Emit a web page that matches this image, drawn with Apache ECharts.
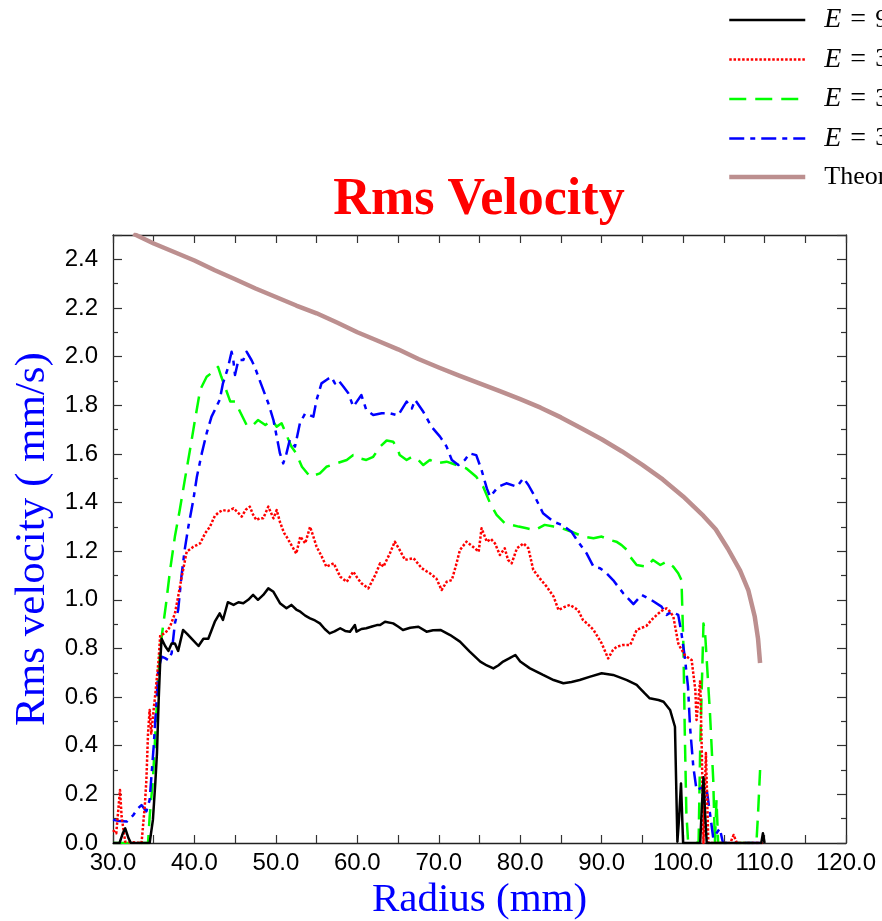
<!DOCTYPE html>
<html>
<head>
<meta charset="utf-8">
<script src="https://cdn.jsdelivr.net/npm/echarts@6/dist/echarts.min.js"></script>
<style>
  html, body { margin: 0; padding: 0; background: #fff; }
  #chart { width: 882px; height: 921px; }
</style>
</head>
<body>
<div id="chart"></div>
<script>
// Axis ranges and ticks
const xTicks = { min: 30, max: 120, step: 5 };
const yTicks = { min: 0, max: 2.5, step: 0.2 };

// Series names (legend)
const seriesNames = ['E = 9.0', 'E = 3.0', 'E = 3.5', 'E = 3.8', 'Theory'];

// Rms velocity (mm/s) against radius (mm), one array per run
const runE1 = [
  [30,0.0],[30.8,0.0],[31.2,0.04],[31.5,0.06],[31.9,0.02],[32.2,0],[34.5,0],[34.9,0.095],[35.2,0.25],
  [35.4,0.37],[35.6,0.58],[35.8,0.75],[35.97,0.84],[36.4,0.81],[36.8,0.79],[37.2,0.82],[37.6,0.82],
  [38.0,0.79],[38.6,0.876],[39.1,0.86],[39.65,0.84],[40.5,0.81],[41.1,0.84],[41.7,0.84],[42.5,0.91],
  [43.1,0.944],[43.5,0.917],[44.1,0.99],[44.8,0.979],[45.4,0.99],[46.0,0.986],[46.6,1.0],[47.2,1.02],
  [47.8,1.0],[48.45,1.02],[49.07,1.047],[49.7,1.033],[50.5,0.986],[51.3,0.965],[51.9,0.979],[52.5,0.96],
  [53.0,0.951],[53.6,0.935],[54.2,0.924],[54.8,0.915],[55.4,0.903],[56.0,0.88],[56.6,0.862],[57.2,0.87],
  [57.9,0.883],[58.5,0.872],[59.1,0.869],[59.7,0.896],[59.9,0.869],[60.5,0.88],[61.1,0.883],[61.8,0.89],
  [62.4,0.896],[62.8,0.896],[63.4,0.91],[64.4,0.903],[65.0,0.89],[65.6,0.876],[66.5,0.885],[67.5,0.889],
  [68.5,0.869],[69.3,0.875],[70.2,0.876],[71.4,0.855],[72.6,0.828],[73.8,0.787],[75.1,0.746],[75.9,0.73],
  [76.7,0.718],[77.3,0.73],[77.9,0.746],[78.7,0.76],[79.4,0.773],[80.0,0.746],[81.2,0.718],[82.0,0.705],
  [82.8,0.691],[84.1,0.67],[85.3,0.657],[86.3,0.662],[87.3,0.67],[88.6,0.684],[90.0,0.698],[91.4,0.691],
  [92.3,0.68],[93.1,0.67],[94.3,0.65],[94.7,0.636],[95.3,0.615],[95.9,0.595],[96.97,0.588],[97.6,0.581],
  [98.4,0.547],[99.0,0.478],[99.3,0.005],[99.5,0.1],[99.74,0.245],[100.0,0.0],[102.1,0.0],[102.3,0.15],
  [102.5,0.27],[102.7,0.12],[102.9,0.0],[109.6,0],[109.8,0.04],[110.0,0]
];

const runE2 = [
  [30,0.053],[30.4,0.04],[30.86,0.218],[31.06,0.108],[31.5,0.005],[33.5,0],[33.9,0.15],[34.1,0.26],
  [34.3,0.45],[34.5,0.547],[34.7,0.45],[35.0,0.55],[35.2,0.615],[35.6,0.752],[35.8,0.855],[36.4,0.862],
  [37.0,0.889],[37.6,0.944],[38.0,1.013],[38.4,1.088],[39.05,1.198],[39.86,1.218],[40.7,1.232],[41.3,1.273],
  [41.9,1.30],[42.5,1.345],[43.0,1.36],[43.5,1.369],[44.1,1.365],[44.8,1.376],[45.3,1.36],[45.8,1.342],
  [46.3,1.37],[46.8,1.383],[47.2,1.35],[47.6,1.328],[48.0,1.335],[48.45,1.335],[49.07,1.383],[49.7,1.335],
  [50.1,1.369],[50.5,1.32],[51.0,1.275],[51.3,1.26],[51.9,1.225],[52.5,1.19],[53.0,1.26],[53.6,1.232],
  [54.2,1.30],[54.6,1.26],[55.0,1.218],[55.6,1.18],[56.2,1.136],[57.1,1.15],[57.9,1.095],[58.7,1.074],
  [59.5,1.116],[60.0,1.09],[60.5,1.068],[61.35,1.047],[62.2,1.102],[62.8,1.15],[63.2,1.136],[64.0,1.191],
  [64.6,1.239],[65.2,1.205],[65.85,1.164],[66.9,1.171],[67.9,1.13],[68.9,1.109],[69.7,1.088],[70.35,1.04],
  [70.96,1.074],[71.6,1.081],[72.1,1.14],[72.6,1.205],[73.4,1.239],[74.2,1.218],[74.9,1.198],[75.25,1.294],
  [75.9,1.239],[76.4,1.25],[76.9,1.232],[77.5,1.184],[78.1,1.212],[78.5,1.164],[78.95,1.15],[79.6,1.212],
  [80.4,1.232],[81.0,1.212],[81.6,1.123],[82.4,1.088],[83.25,1.054],[84.1,1.013],[84.7,0.958],[85.4,0.97],
  [86.1,0.979],[87.1,0.958],[87.7,0.917],[88.3,0.9],[89.0,0.876],[90.0,0.821],[90.8,0.759],[91.4,0.794],
  [91.85,0.807],[92.6,0.814],[93.5,0.814],[94.3,0.876],[94.5,0.883],[95.5,0.893],[96.2,0.92],[96.97,0.944],
  [97.6,0.96],[97.98,0.965],[98.4,0.951],[98.8,0.931],[99.4,0.821],[99.6,0.807],[100.2,0.773],[101.05,0.752],
  [101.5,0.629],[101.65,0.506],[102.1,0.67],[102.3,0.369],[102.5,0],[102.8,0.37],[103.1,0],[105.8,0],
  [106.2,0.033],[106.6,0],[110,0]
];

const runE3 = [
  [30,0],[34.3,0],[34.5,0.108],[34.9,0.26],[35.2,0.45],[35.5,0.65],[35.8,0.8],[36.1,0.88],[36.5,0.98],
  [37.0,1.12],[37.6,1.26],[38.2,1.37],[38.8,1.49],[39.45,1.616],[40.07,1.74],[40.7,1.863],[41.5,1.917],
  [42.3,1.938],[42.9,1.958],[43.3,1.917],[43.75,1.876],[44.4,1.815],[45.0,1.815],[45.6,1.773],[46.4,1.719],
  [47.0,1.712],[47.8,1.739],[48.7,1.719],[49.5,1.739],[50.1,1.712],[50.7,1.726],[51.3,1.678],[51.9,1.63],
  [52.5,1.602],[53.2,1.547],[54.2,1.506],[55.4,1.52],[56.2,1.547],[57.45,1.561],[58.7,1.575],[59.5,1.595],
  [60.3,1.582],[61.1,1.575],[61.95,1.588],[62.8,1.63],[63.6,1.655],[64.4,1.65],[65.0,1.616],[65.2,1.595],
  [66.05,1.575],[66.7,1.588],[67.3,1.582],[68.1,1.554],[68.9,1.575],[69.7,1.561],[70.96,1.568],[72.2,1.554],
  [73.4,1.54],[74.6,1.506],[75.45,1.465],[76.3,1.397],[77.1,1.349],[78.1,1.315],[78.95,1.308],[79.8,1.301],
  [80.8,1.294],[81.8,1.287],[83.0,1.308],[84.1,1.301],[85.1,1.294],[86.3,1.28],[87.7,1.26],[89.0,1.253],
  [90.0,1.26],[91.0,1.246],[91.8,1.239],[92.45,1.225],[93.1,1.205],[93.5,1.177],[94.3,1.143],[95.5,1.136],
  [96.3,1.164],[97.2,1.143],[97.98,1.157],[98.8,1.136],[99.4,1.109],[99.8,1.081],[100.04,0.807],[100.2,0.465],
  [100.4,0.122],[100.6,0.012],[101.9,0],[102.1,0.396],[102.5,0.903],[102.7,0.862],[103.3,0.533],[103.7,0.259],
  [103.9,0],[104.1,0.177],[104.3,0],[109.0,0],[109.2,0.12],[109.45,0.30]
];

const runE4 = [
  [30,0.095],[30.8,0.09],[31.7,0.088],[32.5,0.115],[33.0,0.14],[33.5,0.156],[34.1,0.13],[34.5,0.177],
  [35.0,0.40],[35.35,0.588],[35.55,0.711],[35.97,0.766],[36.4,0.76],[36.8,0.752],[37.2,0.78],[37.6,0.903],
  [38.0,0.958],[38.4,1.095],[38.8,1.205],[39.25,1.30],[39.86,1.41],[40.3,1.506],[40.9,1.602],[41.5,1.685],
  [42.1,1.753],[42.7,1.794],[43.1,1.822],[43.5,1.89],[44.1,1.952],[44.56,2.02],[44.77,1.986],[44.98,1.924],
  [45.4,1.986],[46.0,1.986],[46.4,2.02],[47.0,1.986],[47.4,1.958],[47.85,1.917],[48.45,1.863],[49.07,1.808],
  [49.7,1.739],[50.1,1.671],[50.5,1.602],[50.9,1.561],[51.3,1.602],[51.7,1.657],[52.35,1.63],[52.95,1.726],
  [53.6,1.767],[54.6,1.753],[55.0,1.822],[55.6,1.89],[56.2,1.904],[56.8,1.917],[57.25,1.89],[57.65,1.904],
  [58.3,1.876],[58.9,1.849],[59.5,1.794],[60.5,1.842],[61.1,1.78],[61.95,1.76],[63.0,1.767],[64.0,1.767],
  [65.0,1.758],[66.05,1.815],[66.7,1.787],[67.1,1.822],[68.1,1.773],[69.1,1.712],[70.15,1.671],[70.96,1.63],
  [71.6,1.575],[72.4,1.554],[73.2,1.575],[73.8,1.602],[74.6,1.595],[75.25,1.534],[75.9,1.458],[76.3,1.424],
  [77.3,1.465],[78.3,1.479],[79.6,1.465],[80.4,1.5],[81.0,1.472],[81.8,1.424],[82.8,1.356],[84.1,1.321],
  [85.1,1.308],[86.3,1.28],[87.1,1.239],[88.15,1.191],[89.0,1.136],[89.8,1.13],[90.6,1.109],[91.4,1.081],
  [92.65,1.027],[93.9,0.982],[94.9,1.02],[96.1,0.999],[97.35,0.972],[97.98,0.938],[98.6,0.951],[99.4,0.938],
  [99.8,0.862],[100.2,0.766],[100.6,0.643],[100.85,0.478],[101.25,0.314],[101.65,0.218],[102.1,0.225],
  [102.5,0.231],[102.9,0.218],[103.3,0.122],[103.7,0.02],[104.1,0.04],[104.5,0.06],[104.9,0],[109.5,0]
];

const theory = [
  [32.5,2.505],[35,2.465],[37.5,2.43],[40,2.395],[42.5,2.355],[45,2.318],[47.5,2.28],[50,2.245],
  [52.5,2.21],[55,2.178],[57.5,2.14],[60,2.10],[62.5,2.065],[65,2.03],[67.5,1.99],[70,1.955],[72.5,1.922],
  [75,1.89],[77.5,1.858],[80,1.825],[82.5,1.79],[85,1.75],[87.5,1.705],[90,1.66],[92.5,1.61],[95,1.555],
  [97.5,1.495],[100,1.425],[102.5,1.345],[104,1.29],[105.5,1.21],[107,1.12],[108,1.04],[108.8,0.93],
  [109.2,0.84],[109.45,0.74]
];

const serif = '"Liberation Serif", "Times New Roman", serif';
const sans = '"Liberation Sans", Arial, sans-serif';

const chart = echarts.init(document.getElementById('chart'), null, { renderer: 'canvas' });

function lineSeries(name, data, color, width, dash, z) {
  return {
    name: name,
    type: 'line',
    data: data,
    symbol: 'none',
    showSymbol: false,
    z: z,
    lineStyle: { color: color, width: width, type: dash, cap: 'butt', join: 'round' },
    itemStyle: { color: color },
    animation: false
  };
}

const axisLineStyle = { color: '#222', width: 1.3 };
const tickStyle = { color: '#333', width: 1.2 };

chart.setOption({
  backgroundColor: '#ffffff',
  animation: false,
  title: {
    text: 'Rms Velocity',
    left: 479,
    top: 175,
    padding: 0,
    textAlign: 'center',
    textStyle: { fontFamily: serif, fontSize: 52, fontWeight: 'bold', color: '#ff0000' }
  },
  legend: {
    orient: 'vertical',
    left: 727,
    top: 6,
    padding: 0,
    itemWidth: 76,
    itemHeight: 24,
    itemGap: 11.5,
    itemStyle: { opacity: 0 },
    lineStyle: { width: 'inherit' },
    data: seriesNames,
    formatter: function (name) {
      if (name.indexOf('E = ') === 0) {
        return '{g| }{e|E}{q|=}{n|' + name.slice(4) + '}';
      }
      return '{g| }{n|' + name + '}';
    },
    textStyle: {
      color: '#000',
      fontFamily: serif,
      fontSize: 25,
      rich: {
        g: { width: 14, fontSize: 24, lineHeight: 24 },
        e: { fontFamily: serif, fontStyle: 'italic', fontSize: 28, lineHeight: 24, color: '#000' },
        q: { fontFamily: serif, fontSize: 28, lineHeight: 24, padding: [0, 9, 0, 9], color: '#000' },
        n: { fontFamily: serif, fontSize: 26, lineHeight: 24, color: '#000' }
      }
    }
  },
  grid: { left: 113, right: 36, top: 235, bottom: 78, containLabel: false, outerBoundsMode: 'none' },
  xAxis: [
    {
      type: 'value', position: 'bottom',
      min: xTicks.min, max: xTicks.max, interval: xTicks.step,
      axisLine: { show: true, onZero: false, lineStyle: axisLineStyle },
      axisTick: { show: true, inside: true, length: 8, lineStyle: tickStyle },
      splitLine: { show: false },
      axisLabel: {
        margin: 8, color: '#000', fontFamily: sans, fontSize: 24,
        formatter: function (v) { return v % 10 === 0 ? v.toFixed(1) : ''; }
      },
      name: 'Radius (mm)', nameLocation: 'middle', nameGap: 37,
      nameTextStyle: { fontFamily: serif, fontSize: 41, color: '#0000ff' }
    },
    {
      type: 'value', position: 'top',
      min: xTicks.min, max: xTicks.max, interval: xTicks.step,
      axisLine: { show: true, onZero: false, lineStyle: axisLineStyle },
      axisTick: { show: true, inside: true, length: 8, lineStyle: tickStyle },
      splitLine: { show: false },
      axisLabel: { show: false }
    }
  ],
  yAxis: [
    {
      type: 'value', position: 'left',
      min: yTicks.min, max: yTicks.max, interval: yTicks.step,
      axisLine: { show: true, onZero: false, lineStyle: axisLineStyle },
      axisTick: { show: true, inside: true, length: 9, lineStyle: tickStyle },
      minorTick: { show: true, splitNumber: 2, length: 5, lineStyle: tickStyle },
      splitLine: { show: false },
      axisLabel: {
        margin: 15, color: '#000', fontFamily: sans, fontSize: 24, showMaxLabel: false,
        formatter: function (v) { return v.toFixed(1); }
      },
      name: 'Rms velocity ( mm/s)', nameLocation: 'middle', nameGap: 57,
      nameTextStyle: { fontFamily: serif, fontSize: 43, color: '#0000ff' }
    },
    {
      type: 'value', position: 'right',
      min: yTicks.min, max: yTicks.max, interval: yTicks.step,
      axisLine: { show: true, onZero: false, lineStyle: axisLineStyle },
      axisTick: { show: true, inside: true, length: 9, lineStyle: tickStyle },
      minorTick: { show: true, splitNumber: 2, length: 5, lineStyle: tickStyle },
      splitLine: { show: false },
      axisLabel: { show: false }
    }
  ],
  series: [
    lineSeries(seriesNames[4], theory, '#bc8f8f', 4.5, 'solid', 1),
    lineSeries(seriesNames[2], runE3, '#00ff00', 2.5, [17, 9], 2),
    lineSeries(seriesNames[3], runE4, '#0000ff', 2.5, [15, 6, 5, 6], 3),
    lineSeries(seriesNames[1], runE2, '#ff0000', 2.5, [2.5, 1.8], 4),
    lineSeries(seriesNames[0], runE1, '#000000', 2.5, 'solid', 5)
  ]
});
</script>
</body>
</html>
